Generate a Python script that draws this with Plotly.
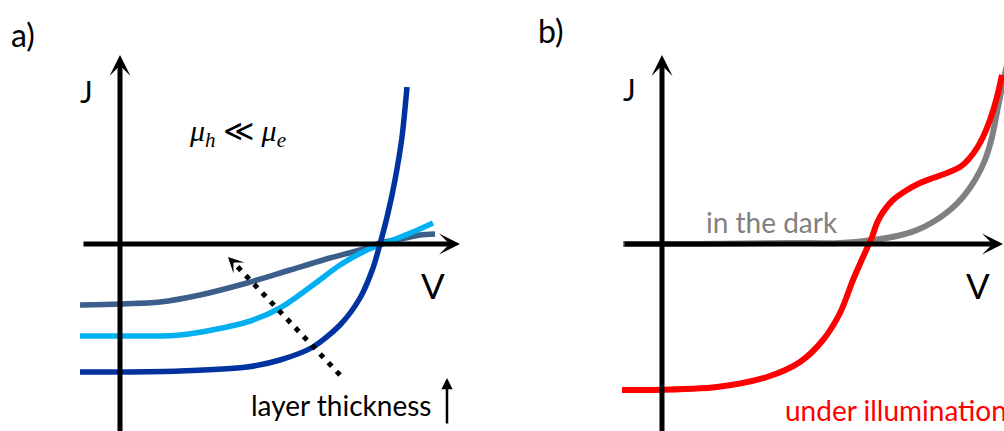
import plotly.graph_objects as go

# ---- panel a: J-V curves for increasing layer thickness (arbitrary units) ----
v_thin = [-0.40, 0.00, 0.60, 1.27, 1.60, 1.93, 2.20, 2.40, 2.53, 2.60, 2.68, 2.75, 2.82, 2.87]
j_thin = [-1.28, -1.28, -1.27, -1.23, -1.16, -1.03, -0.81, -0.54, -0.24, 0.00, 0.31, 0.64, 1.07, 1.57]

v_mid = [-0.40, 0.00, 0.60, 1.27, 1.60, 1.93, 2.20, 2.47, 2.60, 2.93, 3.13]
j_mid = [-0.92, -0.92, -0.91, -0.78, -0.64, -0.41, -0.21, -0.06, -0.01, 0.12, 0.21]

v_thick = [-0.40, 0.00, 0.40, 0.80, 1.27, 1.70, 2.10, 2.40, 2.60, 2.85, 3.00, 3.15]
j_thick = [-0.61, -0.60, -0.58, -0.51, -0.39, -0.26, -0.14, -0.06, 0.01, 0.06, 0.09, 0.10]

# ---- panel b: dark vs illuminated J-V curves ----
v_dark = [-0.39, 0.38, 1.28, 1.78, 2.11, 2.35, 2.55, 2.71, 2.88, 3.01, 3.13, 3.23, 3.30, 3.36, 3.42, 3.45]
j_dark = [0.00, 0.00, 0.01, 0.01, 0.04, 0.08, 0.14, 0.22, 0.34, 0.47, 0.64, 0.84, 1.07, 1.37, 1.66, 1.79]

v_light = [-0.40, -0.12, 0.55, 1.05, 1.38, 1.61, 1.78, 1.91, 2.01, 2.10, 2.15, 2.21, 2.31, 2.45,
           2.58, 2.71, 2.85, 2.98, 3.06, 3.15, 3.21, 3.28, 3.35, 3.40]
j_light = [-1.46, -1.46, -1.43, -1.33, -1.18, -0.96, -0.69, -0.36, -0.13, 0.07, 0.21, 0.32, 0.44, 0.54,
           0.61, 0.66, 0.71, 0.77, 0.84, 0.96, 1.07, 1.24, 1.47, 1.69]

# thickness trend arrow (start -> tip), panel a
trend_v = [2.20, 1.14]
trend_j = [-1.31, -0.19]
trend_tip = (1.08, -0.13)

# axis extents (tail, tip) for both panels
j_axis = (-1.95, 1.89)
v_axis_a = (-0.38, 3.40)
v_axis_b = (-0.39, 3.41)

DARK_BLUE = "#0033a0"
LIGHT_BLUE = "#00b0f0"
SLATE = "#3b5e8b"
GREY = "#808080"
RED = "#ff0000"
FONT = "Lato"

fig = go.Figure()

def curve(x, y, color, xa="x", ya="y", width=5.5):
    fig.add_trace(go.Scatter(x=x, y=y, mode="lines", xaxis=xa, yaxis=ya,
                             line=dict(color=color, width=width, shape="spline", smoothing=0.8),
                             hoverinfo="skip"))

curve(v_thick, j_thick, SLATE)
curve(v_mid, j_mid, LIGHT_BLUE)
curve(v_thin, j_thin, DARK_BLUE)
fig.add_trace(go.Scatter(x=trend_v, y=trend_j, mode="lines", xaxis="x", yaxis="y",
                         line=dict(color="black", width=5, dash="5px,7px"), hoverinfo="skip"))

curve(v_dark, j_dark, GREY, "x2", "y2", 6)
curve(v_light, j_light, RED, "x2", "y2", 6)

ann = []

def arrow(x0, y0, x1, y1, xr="x", yr="y", w=5, head=3, size=0.7):
    ann.append(dict(x=x1, y=y1, ax=x0, ay=y0, xref=xr, yref=yr, axref=xr, ayref=yr,
                    showarrow=True, arrowhead=head, arrowsize=size, arrowwidth=w,
                    arrowcolor="black", text="", standoff=0, startstandoff=0))

def label(x, y, text, size, xr="x", yr="y", color="black", xanchor="center", family=FONT):
    ann.append(dict(x=x, y=y, xref=xr, yref=yr, text=text, showarrow=False,
                    xanchor=xanchor, yanchor="middle",
                    font=dict(family=family, size=size, color=color)))

# axes as arrows
arrow(0, j_axis[0], 0, j_axis[1])
arrow(v_axis_a[0], 0, v_axis_a[1], 0)
arrow(0, j_axis[0], 0, j_axis[1], "x2", "y2")
arrow(v_axis_b[0], 0, v_axis_b[1], 0, "x2", "y2")

# trend arrow head and thickness arrow
arrow(trend_v[1], trend_j[1], trend_tip[0], trend_tip[1], w=4, head=3, size=0.65)
arrow(3.27, -1.81, 3.27, -1.34, w=2.5, head=2, size=0.9)

# labels, panel a
label(-0.97, 2.10, "a)", 32)
label(-0.34, 1.53, "J", 30)
label(3.13, -0.41, "V", 35)
label(1.17, 1.11, "<i>μ</i><sub><i>h</i></sub> ≪ <i>μ</i><sub><i>e</i></sub>", 30, family="Liberation Serif")
label(2.21, -1.61, "layer thickness", 28)

# labels, panel b
label(-1.11, 2.14, "b)", 32, "x2", "y2")
label(-0.33, 1.55, "J", 30, "x2", "y2")
label(3.16, -0.41, "V", 35, "x2", "y2")
label(1.10, 0.22, "in the dark", 28, "x2", "y2", color=GREY)
label(1.21, -1.66, "under illumination", 28, "x2", "y2", color=RED, xanchor="left")

hidden = dict(visible=False, fixedrange=True)
fig.update_layout(
    width=1004, height=431, margin=dict(l=0, r=0, t=0, b=0),
    paper_bgcolor="white", plot_bgcolor="white", showlegend=False,
    xaxis=dict(domain=[0, 0.5], range=[-1.20, 3.82], **hidden),
    yaxis=dict(domain=[0, 1], range=[-1.87, 2.44], **hidden),
    xaxis2=dict(domain=[0.5, 1], range=[-1.60, 3.42], anchor="y2", **hidden),
    yaxis2=dict(domain=[0, 1], range=[-1.87, 2.44], anchor="x2", **hidden),
    annotations=ann,
)

fig.write_html("out.html")
